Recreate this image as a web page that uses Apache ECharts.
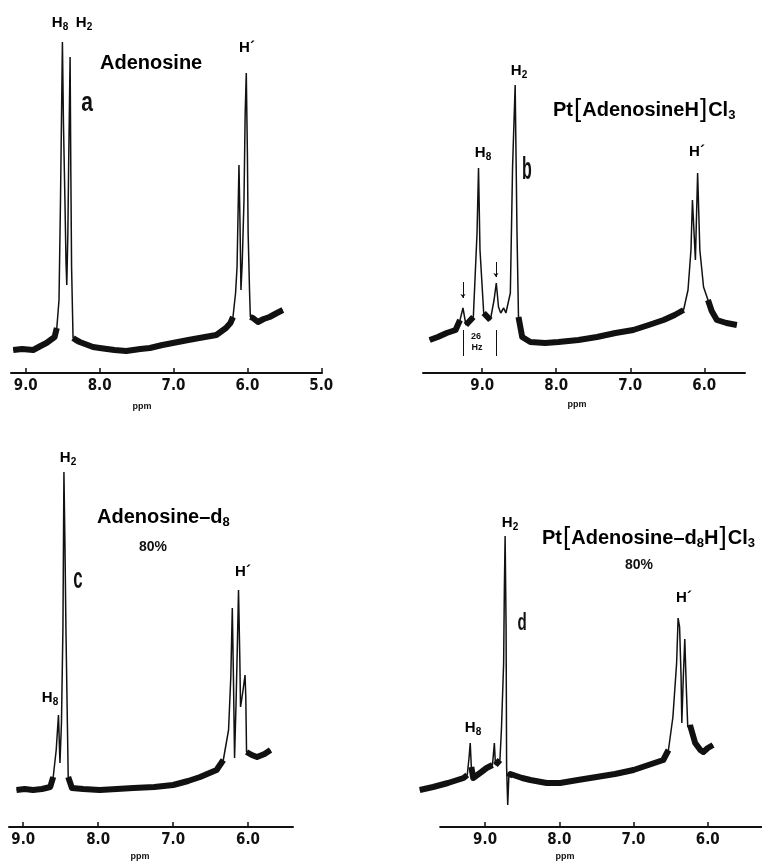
<!DOCTYPE html>
<html>
<head>
<meta charset="utf-8">
<script src="https://cdn.jsdelivr.net/npm/echarts@6/dist/echarts.min.js"></script>
<style>html,body{margin:0;background:#fff}#echarts_box{width:763px;height:862px}</style>
</head>
<body>
<div id="echarts_box"></div>
<script>
// 谱图数据 [ppm, 信号强度]
var specA = [[9.17,23],[9.05,24],[8.90,23],[8.80,27],[8.72,30],[8.61,36],[8.58,45],[8.55,73],[8.53,173],[8.504,331],[8.49,250],[8.47,173],[8.455,110],[8.445,88],[8.43,140],[8.42,206],[8.40,316],[8.39,200],[8.38,106],[8.36,35],[8.32,33],[8.27,31],[8.09,26],[8.0,25],[7.8,23],[7.64,22],[7.45,24],[7.32,25],[7.15,28],[7.01,30],[6.8,33],[6.65,35],[6.42,38],[6.29,45],[6.23,50],[6.195,56],[6.16,80],[6.14,106],[6.114,208],[6.10,150],[6.087,83],[6.07,110],[6.046,173],[6.03,260],[6.015,300],[6.0,220],[5.99,140],[5.97,80],[5.96,56],[5.925,55],[5.857,51],[5.78,54],[5.70,56],[5.6,60],[5.52,63]];
var specB = [[9.71,33],[9.60,36],[9.48,40],[9.36,43],[9.30,53],[9.26,65],[9.22,48],[9.12,56],[9.07,140],[9.05,205],[9.03,123],[8.98,60],[8.89,53],[8.84,73],[8.81,90],[8.78,66],[8.75,60],[8.71,65],[8.68,60],[8.62,80],[8.59,206],[8.555,288],[8.53,140],[8.51,56],[8.46,36],[8.35,31],[8.15,30],[7.97,31],[7.7,33],[7.45,36],[7.2,40],[6.96,43],[6.75,48],[6.55,53],[6.40,58],[6.28,63],[6.22,83],[6.18,123],[6.16,173],[6.12,113],[6.09,200],[6.06,123],[6.01,86],[5.95,73],[5.90,62],[5.83,53],[5.70,50],[5.56,48]];
var specC = [[9.09,37],[8.98,38],[8.87,37],[8.75,38],[8.64,40],[8.60,50],[8.56,77],[8.53,112],[8.51,64],[8.49,104],[8.47,200],[8.457,355],[8.443,280],[8.43,197],[8.41,100],[8.40,50],[8.35,39],[8.2,38],[7.98,37],[7.75,38],[7.53,39],[7.25,40],[7.0,42],[6.8,46],[6.64,50],[6.42,57],[6.33,67],[6.26,97],[6.23,150],[6.21,219],[6.195,150],[6.18,69],[6.16,124],[6.14,190],[6.127,237],[6.11,170],[6.10,120],[6.07,135],[6.04,152],[6.03,130],[6.02,75],[5.95,72],[5.88,70],[5.78,73],[5.70,77]];
var specD = [[9.88,37],[9.7,40],[9.5,44],[9.29,49],[9.24,52],[9.215,70],[9.20,84],[9.185,60],[9.16,49],[9.05,55],[8.98,59],[8.90,62],[8.875,84],[8.86,62],[8.80,67],[8.78,97],[8.75,164],[8.74,240],[8.73,291],[8.717,200],[8.71,60],[8.695,22],[8.68,50],[8.66,53],[8.5,49],[8.39,47],[8.17,44],[7.99,44],[7.75,47],[7.50,50],[7.25,53],[7.0,57],[6.8,62],[6.60,67],[6.53,77],[6.47,110],[6.42,164],[6.40,209],[6.38,200],[6.36,150],[6.35,104],[6.33,150],[6.31,188],[6.29,140],[6.27,100],[6.24,102],[6.17,84],[6.10,77],[6.06,75],[6.0,79],[5.93,82]];

// 刻度
var ticksA = [9, 8, 7, 6, 5];
var ticksB = [9, 8, 7, 6];
var ticksC = [9, 8, 7, 6];
var ticksD = [9, 8, 7, 6];

// b 图的 26 Hz 卫星峰标记 [ppm, 上端强度, 下端强度]
var satLines = [[9.26, 43, 17], [8.815, 43, 17]];
var satArrows = [[9.26, 91, 75], [8.815, 111, 96]];

var FONT = '"Liberation Sans", Arial, sans-serif';
var NARROW = '"Liberation Sans Narrow", "DejaVu Sans Condensed", "Liberation Sans", sans-serif';
var INK = '#111';

// 噪声带覆盖的 ppm 区间（只是画法，不是数据）
var panels = [
    {spec: specA, ticks: ticksA, left: 11, width: 311, top: 0, height: 373, min: 4.99, max: 9.2,
        band: [[9.2, 8.58], [8.36, 6.19], [5.96, 5.5]]},
    {spec: specB, ticks: ticksB, left: 423, width: 322, top: 0, height: 373, min: 5.45, max: 9.8,
        band: [[9.8, 9.28], [9.22, 9.10], [8.99, 8.86], [8.51, 6.28], [5.95, 5.5]]},
    {spec: specC, ticks: ticksC, left: 9, width: 284, top: 430, height: 397, min: 5.40, max: 9.19,
        band: [[9.1, 8.60], [8.40, 6.33], [6.02, 5.6]]},
    {spec: specD, ticks: ticksD, left: 419, width: 343, top: 430, height: 397, min: 5.27, max: 9.89, axisFrom: 9.615,
        band: [[9.9, 9.22], [9.185, 8.89], [8.86, 8.79], [8.68, 6.53], [6.24, 5.9]]}
];

function bandOf(spec, ranges) {
    return spec.map(function (p) {
        var inside = ranges.some(function (r) { return p[0] <= r[0] && p[0] >= r[1]; });
        return inside ? p : [p[0], '-'];
    });
}

var grids = [], xAxes = [], yAxes = [], series = [];
panels.forEach(function (p, i) {
    grids.push({left: p.left, width: p.width, top: p.top, height: p.height, outerBoundsMode: 'none'});
    xAxes.push({
        type: 'value', gridIndex: i, inverse: true, min: p.min, max: p.max,
        axisLine: {show: !p.axisFrom, lineStyle: {color: INK, width: 2}},
        axisTick: {show: true, inside: true, length: 5, customValues: p.ticks, lineStyle: {color: INK, width: 1.5}},
        axisLabel: {customValues: p.ticks, margin: 6, color: INK, fontSize: 15, fontWeight: 'bold', fontFamily: NARROW,
            formatter: function (v) { return v.toFixed(1); }},
        splitLine: {show: false}
    });
    yAxes.push({type: 'value', gridIndex: i, min: 0, max: p.height, show: false});
    var trace = {
        type: 'line', xAxisIndex: i, yAxisIndex: i, data: p.spec, showSymbol: false, symbol: 'none',
        lineStyle: {color: INK, width: 1.5}, silent: true
    };
    if (p.axisFrom) {
        trace.markLine = {
            symbol: 'none', silent: true, label: {show: false},
            lineStyle: {color: INK, width: 2, type: 'solid'},
            data: [[{coord: [p.axisFrom, 0]}, {coord: [p.min, 0]}]]
        };
    }
    series.push(trace);
    series.push({
        type: 'line', xAxisIndex: i, yAxisIndex: i, data: bandOf(p.spec, p.band), showSymbol: false, symbol: 'none',
        connectNulls: false, lineStyle: {color: INK, width: 6, join: 'round', cap: 'butt'}, silent: true
    });
});

// 26 Hz 标记
var satMarks = satLines.map(function (s) {
    return [{coord: [s[0], s[1]], symbol: 'none'}, {coord: [s[0], s[2]], symbol: 'none'}];
}).concat(satArrows.map(function (s) {
    return [{coord: [s[0], s[1]], symbol: 'none'}, {coord: [s[0], s[2]], symbol: 'arrow', symbolSize: 4}];
}));
series.push({
    type: 'line', xAxisIndex: 1, yAxisIndex: 1, data: [], silent: true,
    markLine: {silent: true, label: {show: false}, lineStyle: {color: INK, width: 1, type: 'solid'}, data: satMarks}
});

var rich = {
    t: {fontSize: 15, fontWeight: 'bold', fontFamily: FONT, color: INK},
    s: {fontSize: 10, fontWeight: 'bold', fontFamily: FONT, color: INK, padding: [9, 0, 0, 0]},
    T: {fontSize: 20, fontWeight: 'bold', fontFamily: FONT, color: INK},
    S: {fontSize: 13, fontWeight: 'bold', fontFamily: FONT, color: INK, padding: [11, 0, 0, 0]},
    br: {fontSize: 26, fontWeight: 'normal', fontFamily: FONT, color: INK, padding: [0, 1, 0, 1]}
};

function txt(x, y, text, align) {
    return {type: 'text', x: x, y: y, silent: true,
        style: {text: text, rich: rich, align: align || 'center', verticalAlign: 'middle'}};
}
function plain(x, y, text, size) {
    return {type: 'text', x: x, y: y, silent: true,
        style: {text: text, font: 'bold ' + size + 'px ' + FONT, fill: INK, align: 'center', verticalAlign: 'middle'}};
}
function letter(x, y, ch, size, sx) {
    return {type: 'text', x: x, y: y, scaleX: sx, silent: true,
        style: {text: ch, x: 0, y: 0, font: 'bold ' + size + 'px ' + FONT, fill: INK, align: 'center', verticalAlign: 'middle'}};
}

var graphics = [
    // a
    txt(60, 23, '{t|H}{s|8}'), txt(84, 23, '{t|H}{s|2}'), txt(247, 48, '{t|H´}'),
    txt(100, 63, '{T|Adenosine}', 'left'), letter(87, 103, 'a', 28, 0.75),
    plain(142, 407, 'ppm', 9),
    // b
    txt(519, 71, '{t|H}{s|2}'), txt(483, 153, '{t|H}{s|8}'), txt(697, 152, '{t|H´}'),
    txt(553, 110, '{T|Pt}{br|[}{T|AdenosineH}{br|]}{T|Cl}{S|3}', 'left'), letter(527, 170, 'b', 32, 0.5),
    plain(476, 337, '26', 9), plain(477, 348, 'Hz', 9),
    plain(577, 405, 'ppm', 9),
    // c
    txt(68, 458, '{t|H}{s|2}'), txt(50, 698, '{t|H}{s|8}'), txt(243, 572, '{t|H´}'),
    txt(97, 517, '{T|Adenosine–d}{S|8}', 'left'), plain(153, 547, '80%', 14), letter(78, 580, 'c', 29, 0.58),
    plain(140, 857, 'ppm', 9),
    // d
    txt(510, 523, '{t|H}{s|2}'), txt(473, 728, '{t|H}{s|8}'), txt(684, 598, '{t|H´}'),
    txt(542, 538, '{T|Pt}{br|[}{T|Adenosine–d}{S|8}{T|H}{br|]}{T|Cl}{S|3}', 'left'), plain(639, 565, '80%', 14),
    letter(522, 623, 'd', 24, 0.63),
    plain(565, 857, 'ppm', 9)
];

var mycharts = echarts.init(document.getElementById('echarts_box'));
mycharts.setOption({
    animation: false,
    backgroundColor: '#fff',
    grid: grids,
    xAxis: xAxes,
    yAxis: yAxes,
    series: series,
    graphic: graphics
});
</script>
</body>
</html>
